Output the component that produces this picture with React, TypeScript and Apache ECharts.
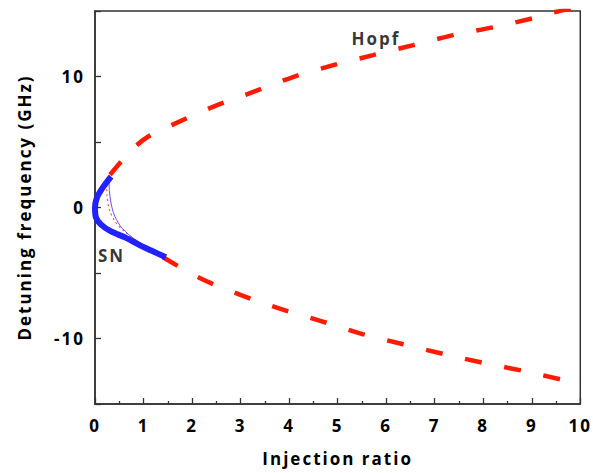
import React, { useEffect, useRef } from "react";
import * as echarts from "echarts";

// Hopf bifurcation curve, upper branch (thick dashed red)
const hopfUpper: [number, number][] = [
  [0.31, 2.5], [0.76, 4.41], [1.09, 5.4], [1.59, 6.31], [2.43, 7.68], [3.26, 8.82],
  [4.08, 9.96], [4.91, 10.87], [5.73, 11.63], [6.56, 12.4], [7.38, 13.16],
  [8.21, 13.76], [9.03, 14.45], [9.38, 14.83], [9.95, 15.3],
];
// Hopf bifurcation curve, lower branch (thick dashed red)
const hopfLower: [number, number][] = [
  [1.4, -3.8], [2.19, -5.44], [3.01, -6.69], [3.84, -7.76], [4.66, -8.67],
  [5.51, -9.66], [6.33, -10.42], [7.18, -11.18], [8.0, -11.86], [8.82, -12.47],
  [9.65, -13.16], [9.96, -13.35],
];
// Hopf curve inside the saddle-node region (thin dotted red)
const hopfInner: [number, number][] = [
  [0.31, 2.5], [0.24, 1.8], [0.25, 0.8], [0.3, -0.2], [0.4, -1.0], [0.58, -1.75],
  [0.9, -2.65], [1.4, -3.8],
];
// thin purple line
const thinCurve: [number, number][] = [
  [0.31, 2.4], [0.29, 1.8], [0.31, 0.8], [0.38, -0.4], [0.52, -1.4], [0.74, -2.2],
  [1.0, -2.85], [1.25, -3.35],
];
// Saddle-node curve (thick blue)
const snCurve: [number, number][] = [
  [0.33, 2.36], [0.16, 1.52], [0.04, 0.76], [0.0, 0.0], [0.02, -0.76], [0.12, -1.29],
  [0.33, -1.83], [0.62, -2.28], [0.89, -2.81], [1.15, -3.27], [1.46, -3.8],
];
// annotations
const annotations = [
  { name: "Hopf", value: [5.79, 12.93] },
  { name: "SN", value: [0.34, -3.65] },
];

const FONT = "'Open Sans', 'Noto Sans', sans-serif";

export default function App() {
  const ref = useRef<HTMLDivElement>(null);
  useEffect(() => {
    if (!ref.current) return;
    const chart = echarts.init(ref.current, undefined, { renderer: "svg" });
    const axisLine = { show: true, onZero: false, lineStyle: { color: "#333", width: 1.5 } };
    chart.setOption({
      animation: false,
      backgroundColor: "#fff",
      grid: {
        left: 95, right: 12, top: 11, bottom: 69,
        show: true, borderColor: "#333", borderWidth: 1.5,
      },
      xAxis: {
        type: "value", min: 0, max: 10, interval: 1,
        axisLine,
        axisTick: { show: true, inside: true, length: 6, lineStyle: { color: "#333", width: 1.3 } },
        minorTick: { show: true, splitNumber: 2, length: 3, lineStyle: { color: "#333", width: 1.3 } },
        splitLine: { show: false },
        axisLabel: { color: "#000", fontSize: 17, fontWeight: "bold", fontFamily: FONT, margin: 13 },
        name: "Injection ratio", nameLocation: "middle", nameGap: 46,
        nameTextStyle: { color: "#000", fontSize: 17, fontWeight: "bold", fontFamily: FONT },
      },
      yAxis: {
        type: "value", min: -15, max: 15, interval: 5,
        axisLine,
        axisTick: { show: true, inside: true, length: 6, lineStyle: { color: "#333", width: 1.3 } },
        splitLine: { show: false },
        axisLabel: {
          color: "#000", fontSize: 17, fontWeight: "bold", fontFamily: FONT, margin: 10,
          formatter: (v: number) => (v % 10 === 0 ? String(v) : ""),
        },
        name: "Detuning frequency (GHz)", nameLocation: "middle", nameGap: 62, nameRotate: 90,
        nameTextStyle: { color: "#000", fontSize: 17, fontWeight: "bold", fontFamily: FONT },
      },
      series: [
        {
          type: "line", data: hopfInner, smooth: 0.3, symbol: "none",
          lineStyle: { color: "#ff5a4a", width: 1.2, type: [2, 3] }, z: 2,
        },
        {
          type: "line", data: thinCurve, smooth: 0.3, symbol: "none",
          lineStyle: { color: "#6a4cff", width: 1 }, z: 2,
        },
        {
          type: "line", data: hopfUpper, smooth: 0.3, symbol: "none",
          lineStyle: { color: "#ff1a00", width: 4.5, type: [17, 23], cap: "butt" }, z: 3,
        },
        {
          type: "line", data: hopfLower, smooth: 0.3, symbol: "none",
          lineStyle: { color: "#ff1a00", width: 4.5, type: [17, 23], cap: "butt" }, z: 3,
        },
        {
          type: "line", data: snCurve, smooth: 0.3, symbol: "none", clip: false,
          lineStyle: { color: "#2222ff", width: 6 }, z: 4,
        },
        {
          type: "scatter", data: annotations, symbolSize: 1,
          itemStyle: { color: "rgba(0,0,0,0)" },
          label: {
            show: true, position: "inside", formatter: "{b}",
            color: "#000", fontSize: 17, fontWeight: "bold", fontFamily: FONT,
          },
          z: 5,
        },
      ],
    });
    return () => chart.dispose();
  }, []);
  return (
    <>
      <style>{`#chartbox text { letter-spacing: 2px; }`}</style>
      <div
        id="chartbox"
        ref={ref}
        style={{ position: "fixed", left: 0, top: 0, width: 593, height: 473, background: "#fff" }}
      />
    </>
  );
}
